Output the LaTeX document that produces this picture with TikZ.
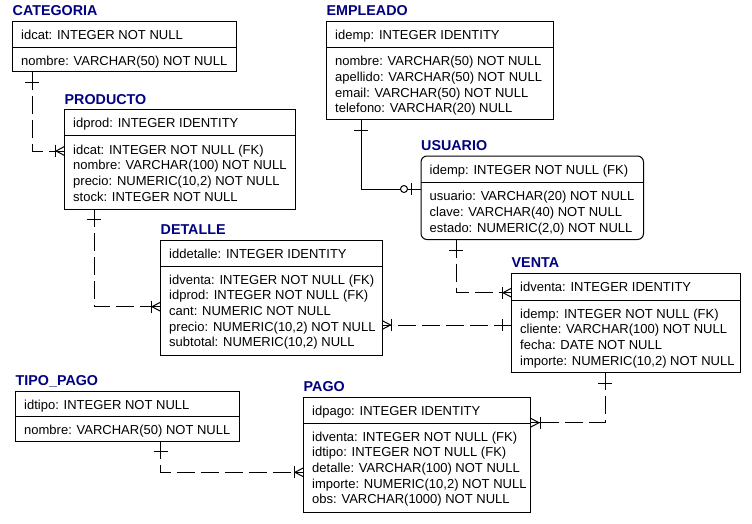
\documentclass[tikz,border=0pt]{standalone}
\usepackage{fontspec}
\setmainfont{Liberation Sans}
\usetikzlibrary{calc}
\definecolor{ttlblue}{RGB}{0,0,128}
\tikzset{
  entbox/.style={draw=black, line width=1pt, inner sep=0pt, outer sep=0pt, anchor=north west, fill=white},
  enttitle/.style={anchor=base west, inner sep=0pt, font=\fontsize{14.3}{16}\selectfont\bfseries, text=ttlblue},
  rowtext/.style={anchor=base west, inner sep=0pt, font=\fontsize{13.0}{15.67}\selectfont},
  divline/.style={line width=1pt},
  relnonid/.style={line width=1pt, dash pattern=on 18pt off 6pt},
  relid/.style={line width=1pt},
  relsym/.style={line width=1pt},
}
% #1 options, #2 name, #3 L, #4 T, #5 R, #6 D, #7 B, #8 title
\newcommand\entity[8][]{%
  \node[entbox,#1,minimum width={(#5-#3)*1pt},minimum height={(#7-#4)*1pt}] (#2) at (#3,#4) {};
  \draw[divline] (#2.west |- 0,#6) -- (#2.east |- 0,#6);
  \node[enttitle] (#2-title) at (#3,{#4-5.7}) {#8};
}
% #1 name, #2 L, #3 T, #4 text
\newcommand\headrow[4]{\node[rowtext] (#1-h) at ({#2+8.5},{#3+18}) {#4};}
% #1 name, #2 L, #3 D, #4 list
\newcommand\bodyrows[4]{\foreach \t [count=\i from 0] in {#4} {\node[rowtext] (#1-r\i) at ({#2+8.5},{#3+18.3+\i*15.67}) {\t};}}
% symbols
\newcommand\crowL[1]{%
  \draw[relsym] ($(#1)+(0,-4.5)$) -- ($(#1)+(-8.5,0)$) -- ($(#1)+(0,4.5)$);
  \draw[relsym] (#1) -- ($(#1)+(-9.5,0)$);
  \draw[relsym] ($(#1)+(-9.5,-6)$) -- ($(#1)+(-9.5,6)$);}
\newcommand\crowR[1]{%
  \draw[relsym] ($(#1)+(0,-4.5)$) -- ($(#1)+(8.5,0)$) -- ($(#1)+(0,4.5)$);
  \draw[relsym] (#1) -- ($(#1)+(9.5,0)$);
  \draw[relsym] ($(#1)+(9.5,-6)$) -- ($(#1)+(9.5,6)$);}
\newcommand\barV[2]{\draw[relsym] ($(#1)+(-7,#2)$) -- ($(#1)+(7,#2)$);}
\newcommand\barH[2]{\draw[relsym] ($(#1)+(#2,-6)$) -- ($(#1)+(#2,6)$);}

\begin{document}
\begin{tikzpicture}[x=1pt,y=-1pt]
\useasboundingbox (0,0) rectangle (752,524);
\fill[white] (0,0) rectangle (752,524);

% ---------------- entities
\entity{cat}{12.5}{21.5}{236}{47.5}{72}{CATEGORIA}
\headrow{cat}{12.5}{21.5}{idcat: INTEGER NOT NULL}
\bodyrows{cat}{12.5}{47.5}{nombre: VARCHAR(50) NOT NULL}

\entity{prod}{64.5}{110}{295.5}{136}{209}{PRODUCTO}
\headrow{prod}{64.5}{110}{idprod: INTEGER IDENTITY}
\bodyrows{prod}{64.5}{136}{idcat: INTEGER NOT NULL (FK),nombre: VARCHAR(100) NOT NULL,{precio: NUMERIC(10,2) NOT NULL},stock: INTEGER NOT NULL}

\entity{emp}{326.5}{21.5}{553.5}{47.5}{120}{EMPLEADO}
\headrow{emp}{326.5}{21.5}{idemp: INTEGER IDENTITY}
\bodyrows{emp}{326.5}{47.5}{nombre: VARCHAR(50) NOT NULL,apellido: VARCHAR(50) NOT NULL,email: VARCHAR(50) NOT NULL,telefono: VARCHAR(20) NULL}

\entity[rounded corners=6pt]{usu}{421}{156}{643.5}{182.5}{239.5}{USUARIO}
\headrow{usu}{421}{156}{idemp: INTEGER NOT NULL (FK)}
\bodyrows{usu}{421}{182.5}{usuario: VARCHAR(20) NOT NULL,clave: VARCHAR(40) NOT NULL,{estado: NUMERIC(2,0) NOT NULL}}

\entity{det}{160.5}{240}{382}{266}{355}{DETALLE}
\headrow{det}{160.5}{240}{iddetalle: INTEGER IDENTITY}
\bodyrows{det}{160.5}{266}{idventa: INTEGER NOT NULL (FK),idprod: INTEGER NOT NULL (FK),cant: NUMERIC NOT NULL,{precio: NUMERIC(10,2) NOT NULL},{subtotal: NUMERIC(10,2) NULL}}

\entity{ven}{511.5}{273.5}{740}{300}{372.3}{VENTA}
\headrow{ven}{511.5}{273.5}{idventa: INTEGER IDENTITY}
\bodyrows{ven}{511.5}{300}{idemp: INTEGER NOT NULL (FK),cliente: VARCHAR(100) NOT NULL,fecha: DATE NOT NULL,{importe: NUMERIC(10,2) NOT NULL}}

\entity{tipo}{15.5}{391}{239.5}{416}{441}{TIPO\_PAGO}
\headrow{tipo}{15.5}{391}{idtipo: INTEGER NOT NULL}
\bodyrows{tipo}{15.5}{416}{nombre: VARCHAR(50) NOT NULL}

\entity{pago}{303.5}{397.5}{530.5}{423}{512.5}{PAGO}
\headrow{pago}{303.5}{397.5}{idpago: INTEGER IDENTITY}
\bodyrows{pago}{303.5}{423}{idventa: INTEGER NOT NULL (FK),idtipo: INTEGER NOT NULL (FK),detalle: VARCHAR(100) NOT NULL,{importe: NUMERIC(10,2) NOT NULL},obs: VARCHAR(1000) NOT NULL}

% ---------------- relationships
% CATEGORIA -> PRODUCTO
\coordinate (b1) at (32.3,151);
\coordinate (e1a) at (cat.south -| b1);
\coordinate (e1b) at (prod.west |- b1);
\draw[relnonid] (e1a) -- (b1) -- (e1b);
\barV{e1a}{10.5}
\crowL{e1b}

% PRODUCTO -> DETALLE
\coordinate (b2) at (94,306.7);
\coordinate (e2a) at (prod.south -| b2);
\coordinate (e2b) at (det.west |- b2);
\draw[relnonid] (e2a) -- (b2) -- (e2b);
\barV{e2a}{10}
\crowL{e2b}

% EMPLEADO -> USUARIO (identifying, zero or one)
\coordinate (b3) at (361.3,189);
\coordinate (e3a) at (emp.south -| b3);
\coordinate (e3b) at (usu.west |- b3);
\draw[relid] (e3a) -- (b3) -- (e3b);
\barV{e3a}{11}
\barH{e3b}{-9.5}
\draw[relsym, fill=white] ($(e3b)+(-17,0)$) circle[radius=3.5];

% USUARIO -> VENTA
\coordinate (b4) at (456.3,292.7);
\coordinate (e4a) at (usu.south -| b4);
\coordinate (e4b) at (ven.west |- b4);
\draw[relnonid] (e4a) -- (b4) -- (e4b);
\barV{e4a}{10.5}
\crowL{e4b}

% VENTA -> DETALLE
\coordinate (e5a) at (ven.west |- 0,325);
\coordinate (e5b) at (det.east |- 0,325);
\draw[relnonid] (e5a) -- (e5b);
\barH{e5a}{-9.3}
\crowR{e5b}

% VENTA -> PAGO
\coordinate (b6) at (605,422.7);
\coordinate (e6a) at (ven.south -| b6);
\coordinate (e6b) at (pago.east |- b6);
\draw[relnonid] (e6a) -- (b6) -- (e6b);
\barV{e6a}{11}
\crowR{e6b}

% TIPO_PAGO -> PAGO
\coordinate (b7) at (160.7,472.3);
\coordinate (e7a) at (tipo.south -| b7);
\coordinate (e7b) at (pago.west |- b7);
\draw[relnonid] (e7a) -- (b7) -- (e7b);
\barV{e7a}{10}
\crowL{e7b}
\end{tikzpicture}
\end{document}
